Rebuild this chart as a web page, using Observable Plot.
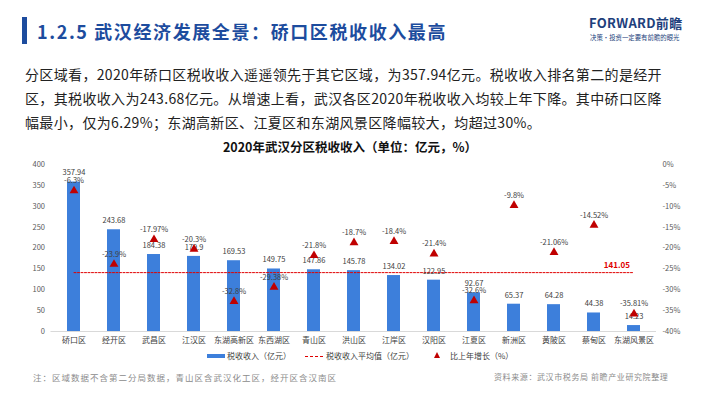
<!DOCTYPE html>
<html><head><meta charset="utf-8">
<script src="https://cdn.jsdelivr.net/npm/d3@7"></script>
<script src="https://cdn.jsdelivr.net/npm/@observablehq/plot@0.6"></script>
<style>
body{margin:0;background:#fff;font-family:"Noto Sans CJK SC","Noto Sans",sans-serif;}
#page{position:relative;width:710px;height:399px;overflow:hidden;background:#fff;}
.abs{position:absolute;white-space:nowrap;}
#chart{position:absolute;left:0;top:150px;}
</style></head>
<body><div id="page">
<div class="abs" style="left:22px;top:17px;width:5px;height:27px;background:#1d4c9e"></div>
<div class="abs" style="left:37px;top:19px;font-size:18px;line-height:24px;font-weight:bold;color:#1d4c9e;letter-spacing:1.6px">1.2.5 武汉经济发展全景：硚口区税收收入最高</div>
<div class="abs" style="left:589px;top:15px;font-size:13px;line-height:16px;font-weight:bold;color:#1e3f7c;letter-spacing:0.3px">FORWARD前瞻</div>
<div class="abs" style="left:590px;top:33px;font-size:6.4px;line-height:9px;color:#1e3f7c">决策·投资一定要有前瞻的眼光</div>
<div class="abs" style="left:25px;top:62px;font-size:14px;line-height:24px;color:#222;letter-spacing:0.35px">分区域看，2020年硚口区税收收入遥遥领先于其它区域，为357.94亿元。税收收入排名第二的是经开<br>区，其税收收入为243.68亿元。从增速上看，武汉各区2020年税收收入均较上年下降。其中硚口区降<br>幅最小，仅为6.29%；东湖高新区、江夏区和东湖风景区降幅较大，均超过30%。</div>
<div class="abs" style="left:0;width:700px;text-align:center;top:139px;font-size:12.5px;line-height:16px;font-weight:bold;color:#111">2020年武汉分区税收收入（单位：亿元，%）</div>
<div id="chart"></div>
<div class="abs" style="left:207px;top:354px;width:18px;height:4px;background:#3d7fdb"></div>
<div class="abs" style="left:227px;top:350px;font-size:8px;line-height:12px;color:#404040">税收收入（亿元）</div>
<div class="abs" style="left:305px;top:356px;width:18px;height:0;border-top:1px dashed #e00000"></div>
<div class="abs" style="left:326px;top:350px;font-size:8px;line-height:12px;color:#404040">税收收入平均值（亿元）</div>
<div class="abs" style="left:434px;top:352px;width:0;height:0;border-left:3.5px solid transparent;border-right:3.5px solid transparent;border-bottom:6px solid #c00000"></div>
<div class="abs" style="left:450px;top:350px;font-size:8px;line-height:12px;color:#404040">比上年增长（%）</div>
<div class="abs" style="left:33px;top:371px;font-size:8.5px;line-height:12px;color:#8c8c8c;letter-spacing:1px">注：区域数据不含第二分局数据，青山区含武汉化工区，经开区含汉南区</div>
<div class="abs" style="left:494px;top:371px;font-size:8px;line-height:12px;color:#8c8c8c;letter-spacing:0.6px">资料来源：武汉市税务局 前瞻产业研究院整理</div>
</div>
<script>
const districts = ["硚口区","经开区","武昌区","江汉区","东湖高新区","东西湖区","青山区","洪山区","江岸区","汉阳区","江夏区","新洲区","黄陂区","蔡甸区","东湖风景区"];
const taxRevenue = [357.94,243.68,184.38,179.9,169.53,149.75,147.86,145.78,134.02,122.95,92.67,65.37,64.28,44.38,14.23];
const taxLabels = ["357.94","243.68","184.38","179.9","169.53","149.75","147.86","145.78","134.02","122.95","92.67","65.37","64.28","44.38","14.23"];
const growthPct = [-6.3,-23.9,-17.97,-20.3,-32.8,-29.38,-21.8,-18.7,-18.4,-21.4,-32.6,-9.8,-21.06,-14.52,-35.81];
const averageTax = 141.05;
const leftTicks = [0,50,100,150,200,250,300,350,400];
const rightTicks = [-40,-35,-30,-25,-20,-15,-10,-5,0];
const rightTickLabels = ["-40%","-35%","-30%","-25%","-20%","-15%","-10%","-5%","0%"];

// secondary axis: growth % domain [-40, 0] mapped onto primary [0, 400]
const toPrimary = g => (g + 40) * 10;

const data = districts.map((name, i) => ({name, tax: taxRevenue[i], taxLabel: taxLabels[i], growth: growthPct[i]}));

const chart = Plot.plot({
  width: 710, height: 200,
  marginLeft: 50.5, marginRight: 54, marginTop: 14, marginBottom: 19,
  x: {domain: districts, paddingInner: 0.68, paddingOuter: 0.34, axis: null, label: null},
  y: {domain: [0, 400], axis: null, label: null},
  style: {fontFamily: '"Noto Sans CJK SC","Noto Sans",sans-serif', fontSize: "8px", background: "transparent", color: "#404040"},
  marks: [
    Plot.ruleY([0], {stroke: "#d9d9d9"}),
    Plot.barY(data, {x: "name", y: "tax", fill: "#3d7fdb"}),
    Plot.lineY(data, {x: "name", y: () => averageTax, stroke: "#e00000", strokeWidth: 1, strokeDasharray: "2,1.5"}),
    Plot.text(data, {x: "name", y: "tax", text: "taxLabel", dy: -9, fill: "#404040", fontSize: 7.5}),
    Plot.dot(data, {x: "name", y: d => toPrimary(d.growth), symbol: "triangle", r: 3.3, fill: "#c00000", stroke: "none"}),
    Plot.text(data, {x: "name", y: d => toPrimary(d.growth), text: d => d.growth + "%", dy: -10, fill: "#404040", fontSize: 7.5}),
    Plot.text([averageTax], {x: () => districts[districts.length - 1], y: d => d, text: d => d.toFixed(2), dx: -4, dy: -7, textAnchor: "end", fill: "#e00000", fontWeight: "bold", fontSize: 8}),
    Plot.axisY({ticks: leftTicks, anchor: "left", label: null, tickSize: 0, tickPadding: 6, fontSize: 7.5, fill: "#595959"}),
    Plot.axisY({ticks: rightTicks.map(toPrimary), anchor: "right", label: null, tickSize: 0, tickPadding: 6, fontSize: 7.5, fill: "#595959",
      tickFormat: v => rightTickLabels[rightTicks.map(toPrimary).indexOf(v)]}),
    Plot.axisX({anchor: "bottom", label: null, tickSize: 0, tickPadding: 6, fontSize: 8, fill: "#404040"})
  ]
});
document.getElementById("chart").appendChild(chart);
</script>
</body></html>
